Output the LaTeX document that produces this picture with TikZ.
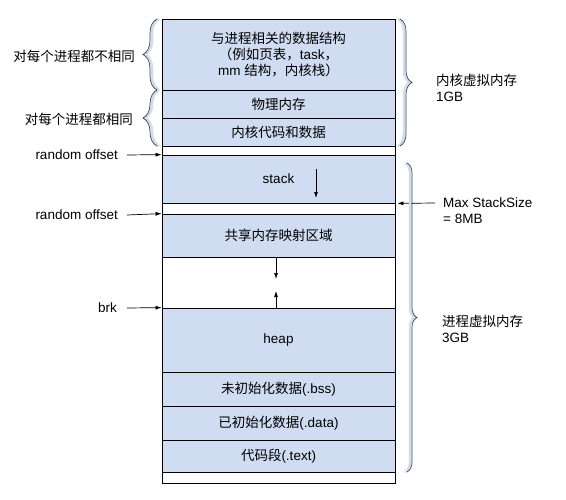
\documentclass[tikz,border=0pt]{standalone}
\usepackage{fontspec}
\setmainfont{Liberation Sans}
\newfontfamily\cjk{Noto Sans CJK SC}
\usetikzlibrary{arrows.meta,decorations.pathreplacing}
\definecolor{memfill}{RGB}{207,220,242}

\begin{document}
\begin{tikzpicture}[x=1pt,y=-1pt,
        font=\fontsize{13.5}{16}\selectfont,
        seg/.style={draw, fill=memfill, line width=0.8pt,
                        minimum width=233pt, inner sep=0pt, align=center},
        gapseg/.style={seg, fill=white},
        lbl/.style={inner sep=0pt, align=left},
        arr/.style={-{Latex[length=6pt,width=4pt]}, line width=0.7pt},
        brc/.style={decorate, decoration={brace, amplitude=#1},
                        draw=black!75, line width=0.7pt},
        brcbg/.style={decorate, decoration={brace, amplitude=#1},
                        draw=memfill, line width=2.5pt}]
    \useasboundingbox (0,0) rectangle (566,499);

    % kernel space
    \node[seg, minimum height=71pt] (kds) at (278.5,54.5)
        {{\cjk 与进程相关的数据结构}\\{\cjk （例如页表，}task{\cjk ，}\\mm {\cjk 结构，内核栈）}};
    \node[seg, minimum height=28pt] (phys) at (278.5,104) {\cjk 物理内存};
    \node[seg, minimum height=28pt] (kcode) at (278.5,132) {\cjk 内核代码和数据};

    % user space
    \node[gapseg, minimum height=9pt] (gapa) at (278.5,150.5) {};
    \node[seg, minimum height=48pt] (stack) at (278.5,179) {stack};
    \node[gapseg, minimum height=11pt] (gapb) at (278.5,208.5) {};
    \node[seg, minimum height=43pt] (mmap) at (278.5,235.5) {\cjk 共享内存映射区域};
    \node[gapseg, minimum height=51pt] (gapc) at (278.5,282.5) {};
    \node[seg, minimum height=64pt] (heap) at (278.5,340) {heap};
    \node[seg, minimum height=34pt] (bss) at (278.5,389) {{\cjk 未初始化数据}(.bss)};
    \node[seg, minimum height=34pt] (data) at (278.5,423) {{\cjk 已初始化数据}(.data)};
    \node[seg, minimum height=32pt] (text) at (278.5,456) {{\cjk 代码段}(.text)};
    \node[gapseg, minimum height=11pt] (gapd) at (278.5,477.5) {};

    % growth arrows
    \coordinate (stkA) at (316,169);
    \coordinate (stkB) at (316,198);
    \draw[arr] (stkA) -- (stkB);
    \coordinate (mmapend) at (276,279);
    \coordinate (heapend) at (276,291);
    \draw[arr] (mmap.south -| mmapend) -- (mmapend);
    \draw[arr] (heap.north -| heapend) -- (heapend);

    % left labels
    \node[lbl, anchor=east] (diff) at (135,56) {\cjk 对每个进程都不相同};
    \node[lbl, anchor=east] (same) at (133,119) {\cjk 对每个进程都相同};
    \node[lbl, anchor=east] (offa) at (118,155) {random offset};
    \node[lbl, anchor=east] (offb) at (118,215) {random offset};
    \node[lbl, anchor=east] (brk) at (117,308) {brk};
    \draw[arr] ([xshift=9pt]offa.east) -- (stack.north west);
    \draw[arr] ([xshift=9pt]offb.east) -- (mmap.north west);
    \draw[arr] ([xshift=10pt]brk.east) -- (heap.north west);

    % right labels
    \node[lbl, anchor=west] (kvm) at (436,88) {{\cjk 内核虚拟内存}\\1GB};
    \node[lbl, anchor=west] (maxstk) at (443,211) {Max StackSize\\= 8MB};
    \node[lbl, anchor=west] (uvm) at (442,329) {{\cjk 进程虚拟内存}\\3GB};
    \coordinate (maxstkfrom) at (435,203);
    \draw[arr] (maxstkfrom) -- ([xshift=2pt]stack.south east);

    % braces
    \draw[brcbg=14, xshift=2pt] (157,90) -- (157,19);
    \draw[brc=14] (157,90) -- (157,19);
    \draw[brcbg=14, xshift=2pt] (157,146) -- (157,90);
    \draw[brc=14] (157,146) -- (157,90);
    \draw[brcbg=12, xshift=-2pt] (400,19) -- (400,146);
    \draw[brc=12] (400,19) -- (400,146);
    \draw[brcbg=10, xshift=-2pt] (407,163) -- (407,472);
    \draw[brc=10] (407,163) -- (407,472);
\end{tikzpicture}
\end{document}
